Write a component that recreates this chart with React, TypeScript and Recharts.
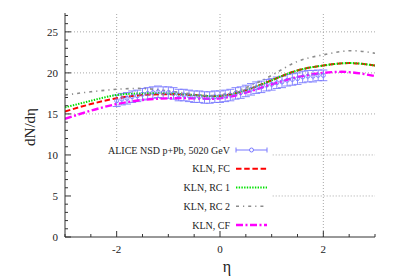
import {
  ComposedChart,
  ErrorBar,
  Line,
  ReferenceLine,
  Scatter,
  XAxis,
  YAxis,
} from "recharts";

// KLN model curves, sampled in eta
const curveEta = [-3, -2.5, -2, -1.5, -1, -0.5, 0, 0.5, 1, 1.5, 2, 2.5, 3];
const klnFC = [15.3, 16.2, 16.9, 17.3, 17.4, 17.3, 17.2, 17.9, 19.1, 20.3, 20.9, 21.2, 20.9];
const klnRC1 = [15.8, 16.6, 17.3, 17.5, 17.5, 17.3, 17.2, 17.9, 19.1, 20.3, 20.9, 21.2, 20.9];
const klnRC2 = [17.3, 17.7, 18.0, 18.1, 17.8, 17.4, 17.3, 18.2, 19.7, 21.4, 22.2, 22.7, 22.4];
const klnCF = [14.4, 15.4, 16.2, 16.7, 16.9, 16.9, 16.9, 17.6, 18.6, 19.5, 20.0, 20.1, 19.6];

// ALICE NSD p+Pb 5020 GeV
const aliceEta = [
  -2.0, -1.9, -1.8, -1.7, -1.6, -1.5, -1.4, -1.3, -1.2, -1.1, -1.0, -0.9, -0.8, -0.7,
  -0.6, -0.5, -0.4, -0.3, -0.2, -0.1, 0.0, 0.1, 0.2, 0.3, 0.4, 0.5, 0.6, 0.7, 0.8, 0.9,
  1.0, 1.1, 1.2, 1.3, 1.4, 1.5, 1.6, 1.7, 1.8, 1.9, 2.0,
];
const aliceValues = [
  16.6, 16.8, 16.9, 17.1, 17.2, 17.4, 17.5, 17.6, 17.7, 17.6, 17.6, 17.5, 17.3, 17.3,
  17.2, 17.1, 17.1, 17.0, 17.0, 17.1, 17.1, 17.2, 17.3, 17.5, 17.6, 17.8, 18.0, 18.2,
  18.3, 18.5, 18.6, 18.8, 18.9, 19.1, 19.2, 19.3, 19.5, 19.6, 19.6, 19.7, 19.7,
];
const aliceErr = [
  0.7, 0.7, 0.7, 0.7, 0.7, 0.7, 0.7, 0.7, 0.7, 0.7, 0.7, 0.7, 0.7, 0.7,
  0.7, 0.7, 0.7, 0.7, 0.7, 0.7, 0.7, 0.7, 0.7, 0.7, 0.7, 0.7, 0.7, 0.7,
  0.7, 0.7, 0.7, 0.7, 0.7, 0.7, 0.7, 0.7, 0.7, 0.7, 0.7, 0.65, 0.65,
];

const xTicks = [-3, -2.5, -2, -1.5, -1, -0.5, 0, 0.5, 1, 1.5, 2, 2.5, 3];
const xLabels = [-2, 0, 2];
const yTicks = [0, 1, 2, 3, 4, 5, 6, 7, 8, 9, 10, 11, 12, 13, 14, 15, 16, 17, 18, 19, 20, 21, 22, 23, 24, 25, 26, 27];
const yLabels = [0, 5, 10, 15, 20, 25];

const W = 395;
const H = 276;
const AXIS = "#333";
const GRID = "#a8a8a8";
const FONT = "'Liberation Serif', 'Times New Roman', serif";
const BLUE = "#7878ff";

// opaque key box hides the grid below/left of this corner
const KEY_ETA = 1.02;
const KEY_TOP = 11.7;

const series = [
  { key: "fc", label: "KLN, FC", values: klnFC, color: "#ff0000", dash: "5.5 2.7", width: 2 },
  { key: "rc1", label: "KLN, RC 1", values: klnRC1, color: "#00e000", dash: "1.4 1.3", width: 2 },
  { key: "rc2", label: "KLN, RC 2", values: klnRC2, color: "#8c8c8c", dash: "3 4 1.2 4", width: 1.6 },
  { key: "cf", label: "KLN, CF", values: klnCF, color: "#ff00ff", dash: "7 2.5 2 2.5", width: 2.4 },
];

const alice = aliceEta.map((x, i) => ({ eta: x, v: aliceValues[i], err: aliceErr[i] }));

function makeTick(side: "left" | "right" | "bottom" | "top") {
  return (p: any) => {
    const v = p.payload.value;
    const vertical = side === "left" || side === "right";
    const major = vertical ? yLabels.includes(v) : xLabels.includes(v);
    const len = major ? 6 : 3;
    if (side === "left")
      return (
        <g>
          <line x1={p.x} x2={p.x + len} y1={p.y} y2={p.y} stroke={AXIS} />
          {major && (
            <text x={p.x - 7} y={p.y + 4} textAnchor="end" fontSize={11} fontFamily={FONT} fill="#222">
              {v}
            </text>
          )}
        </g>
      );
    if (side === "right") return <line x1={p.x} x2={p.x - len} y1={p.y} y2={p.y} stroke={AXIS} />;
    if (side === "top") return <line x1={p.x} x2={p.x} y1={p.y} y2={p.y + len} stroke={AXIS} />;
    return (
      <g>
        <line x1={p.x} x2={p.x} y1={p.y} y2={p.y - len} stroke={AXIS} />
        {major && (
          <text x={p.x} y={p.y + 16} textAnchor="middle" fontSize={11} fontFamily={FONT} fill="#222">
            {v}
          </text>
        )}
      </g>
    );
  };
}

const AliceDot = (p: any) => (
  <circle cx={p.cx} cy={p.cy} r={2} fill="none" stroke={BLUE} strokeWidth={0.9} />
);

function Key() {
  const rows = [
    { label: "ALICE NSD p+Pb, 5020 GeV", s: null as any },
    ...series.map((s) => ({ label: s.label, s })),
  ];
  const x0 = 236;
  const x1 = 267;
  return (
    <svg width={W} height={H} style={{ position: "absolute", left: 0, top: 0, pointerEvents: "none" }}>
      {rows.map((r, i) => {
        const y = 150 + i * 18.75;
        return (
          <g key={r.label}>
            <text x={230} y={y + 3.5} textAnchor="end" fontSize={10} fontFamily={FONT} fill="#222">
              {r.label}
            </text>
            {r.s ? (
              <line x1={x0} x2={x1} y1={y} y2={y} stroke={r.s.color} strokeWidth={r.s.width} strokeDasharray={r.s.dash} />
            ) : (
              <g stroke={BLUE} strokeWidth={1} fill="none">
                <line x1={x0} x2={x1} y1={y} y2={y} />
                <line x1={x0} x2={x0} y1={y - 2.5} y2={y + 2.5} />
                <line x1={x1} x2={x1} y1={y - 2.5} y2={y + 2.5} />
                <circle cx={(x0 + x1) / 2} cy={y} r={2} fill="#fff" />
              </g>
            )}
          </g>
        );
      })}
      <text x={227} y={272} textAnchor="middle" fontSize={16} fontFamily={FONT} fill="#222">
        η
      </text>
      <text
        x={0}
        y={0}
        transform="translate(35,127) rotate(-90)"
        textAnchor="middle"
        fontSize={15}
        fontFamily={FONT}
        fill="#222"
      >
        dN/dη
      </text>
    </svg>
  );
}

export default function App() {
  return (
    <div style={{ position: "absolute", left: 0, top: 0, width: W, height: H, background: "#fff" }}>
      <ComposedChart width={W} height={H} margin={{ top: 13, right: 20, bottom: 9, left: 0 }}>
        <XAxis
          dataKey="eta"
          type="number"
          domain={[-3, 3]}
          ticks={xTicks}
          interval={0}
          allowDataOverflow
          height={30}
          tickSize={0}
          tickMargin={0}
          stroke={AXIS}
          tick={makeTick("bottom")}
        />
        <XAxis
          xAxisId="top"
          orientation="top"
          type="number"
          domain={[-3, 3]}
          ticks={xTicks}
          interval={0}
          allowDataOverflow
          height={0}
          tickSize={0}
          tickMargin={0}
          stroke={AXIS}
          tick={makeTick("top")}
        />
        <YAxis
          type="number"
          domain={[0, 27.3]}
          ticks={yTicks}
          interval={0}
          allowDataOverflow
          width={65}
          tickSize={0}
          tickMargin={0}
          stroke={AXIS}
          tick={makeTick("left")}
        />
        <YAxis
          yAxisId="right"
          orientation="right"
          type="number"
          domain={[0, 27.3]}
          ticks={yTicks}
          interval={0}
          allowDataOverflow
          width={0}
          tickSize={0}
          tickMargin={0}
          stroke={AXIS}
          tick={makeTick("right")}
        />
        {yLabels
          .filter((v) => v > 0)
          .map((v) => (
            <ReferenceLine
              key={`gy${v}`}
              segment={v < KEY_TOP ? [{ x: KEY_ETA, y: v }, { x: 3, y: v }] : [{ x: -3, y: v }, { x: 3, y: v }]}
              stroke={GRID}
              strokeDasharray="1 2"
              zIndex={-100}
            />
          ))}
        {xLabels.map((v) => (
          <ReferenceLine
            key={`gx${v}`}
            segment={v < KEY_ETA ? [{ x: v, y: KEY_TOP }, { x: v, y: 27.3 }] : [{ x: v, y: 0 }, { x: v, y: 27.3 }]}
            stroke={GRID}
            strokeDasharray="1 2"
            zIndex={-100}
          />
        ))}
        <Scatter data={alice} dataKey="v" shape={<AliceDot />} isAnimationActive={false}>
          <ErrorBar dataKey="err" direction="y" width={4} stroke={BLUE} strokeWidth={0.9} />
        </Scatter>
        {series.map((s) => (
          <Line
            key={s.key}
            data={curveEta.map((x, i) => ({ eta: x, v: s.values[i] }))}
            dataKey="v"
            type="natural"
            stroke={s.color}
            strokeWidth={s.width}
            strokeDasharray={s.dash}
            dot={false}
            activeDot={false}
            isAnimationActive={false}
          />
        ))}
      </ComposedChart>
      <Key />
    </div>
  );
}
